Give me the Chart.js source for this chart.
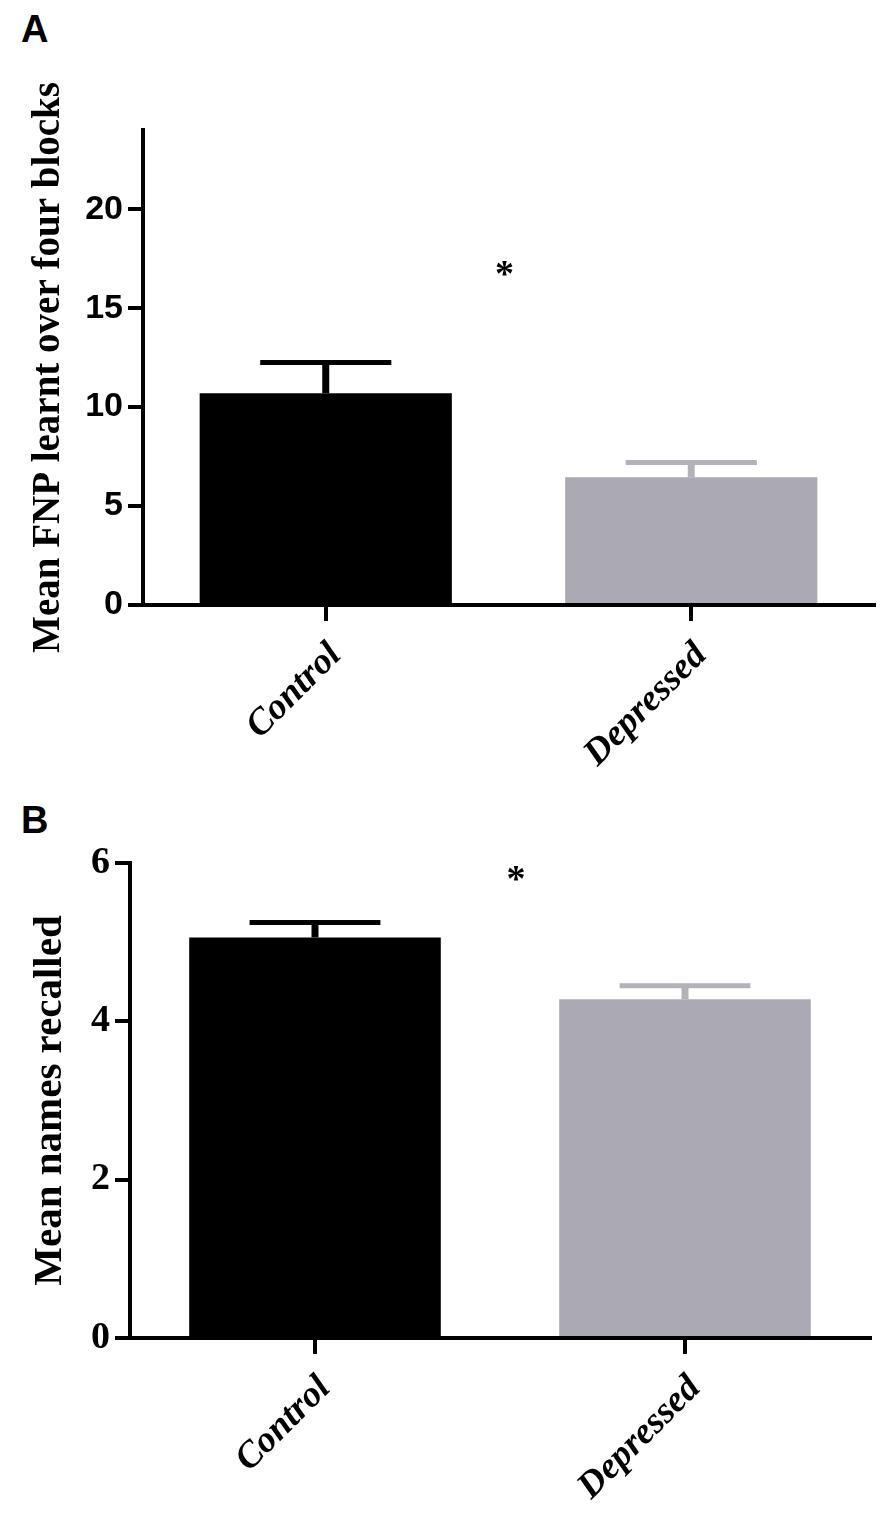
<!DOCTYPE html>
<html>
<head>
<meta charset="utf-8">
<script src="https://cdn.jsdelivr.net/npm/chart.js@4.4.1/dist/chart.umd.min.js"></script>
<style>
  body { margin: 0; background: #fff; }
  #page { position: relative; width: 892px; height: 1522px; overflow: hidden; }
  canvas { position: absolute; left: 0; }
  .panel { position: absolute; left: 21px; font: bold 38px "Liberation Sans", Arial, sans-serif; line-height: 1; }
</style>
</head>
<body>
<div id="page">
  <div class="panel" style="top:10px">A</div>
  <canvas id="chartA" width="892" height="790" style="top:0"></canvas>
  <div class="panel" style="top:801px">B</div>
  <canvas id="chartB" width="892" height="732" style="top:790px"></canvas>
</div>
<script>
// groupes et valeurs
const groups = ['Control', 'Depressed'];
const barColors = ['#000000', '#aba9b3'];
const errColors = ['#000000', '#b3b2b9'];

// panneau A
const fnpMeans = [10.7, 6.45];
const fnpErrors = [1.55, 0.75];
const fnpTicks = [0, 5, 10, 15, 20];
const fnpMax = 24;
const fnpStar = 17;

// panneau B
const recallMeans = [5.06, 4.28];
const recallErrors = [0.19, 0.17];
const recallTicks = [0, 2, 4, 6];
const recallMax = 6;
const recallStar = 5.87;

const errorBars = {
    id: 'errorBars',
    afterDatasetsDraw(chart, args, opts) {
        const { ctx } = chart;
        const y = chart.scales.y;
        const values = chart.data.datasets[0].data;
        chart.getDatasetMeta(0).data.forEach((bar, i) => {
            const top = y.getPixelForValue(values[i] + opts.errors[i]);
            const half = bar.width * 0.26;
            ctx.save();
            ctx.strokeStyle = errColors[i];
            ctx.lineWidth = 7;
            ctx.beginPath();
            ctx.moveTo(bar.x, bar.y);
            ctx.lineTo(bar.x, top);
            ctx.stroke();
            ctx.lineWidth = 5;
            ctx.beginPath();
            ctx.moveTo(bar.x - half, top);
            ctx.lineTo(bar.x + half, top);
            ctx.stroke();
            ctx.restore();
        });
    }
};

const star = {
    id: 'star',
    afterDatasetsDraw(chart, args, opts) {
        const { ctx } = chart;
        const bars = chart.getDatasetMeta(0).data;
        const x = (bars[0].x + bars[1].x) / 2 + opts.shift;
        const y = chart.scales.y.getPixelForValue(opts.value);
        ctx.save();
        ctx.fillStyle = '#000';
        ctx.font = 'bold 38px "Liberation Serif", serif';
        ctx.textAlign = 'center';
        ctx.textBaseline = 'middle';
        ctx.fillText('*', x, y + 8);
        ctx.restore();
    }
};

function makeChart(id, means, errors, ticks, max, starValue, title, sizes) {
    return new Chart(document.getElementById(id), {
        type: 'bar',
        data: {
            labels: groups,
            datasets: [{
                data: means,
                backgroundColor: barColors,
                borderWidth: 0,
                barPercentage: sizes.barPct,
                categoryPercentage: 1
            }]
        },
        options: {
            responsive: false,
            animation: false,
            layout: { padding: { top: sizes.top, right: sizes.right, left: 0, bottom: 0 } },
            plugins: {
                legend: { display: false },
                tooltip: { enabled: false },
                errorBars: { errors: errors },
                star: { value: starValue, shift: sizes.starShift }
            },
            scales: {
                x: {
                    afterFit: (s) => { s.height = sizes.xHeight; },
                    border: { display: true, color: '#000', width: 4 },
                    grid: { display: true, drawOnChartArea: false, drawTicks: true, tickLength: 16, offset: false, color: '#000', lineWidth: 4 },
                    ticks: {
                        color: '#000',
                        minRotation: 45,
                        maxRotation: 45,
                        padding: 13,
                        labelOffset: 10,
                        font: { family: '"Liberation Serif", "Times New Roman", serif', size: 37, weight: 'bold', style: 'italic' }
                    }
                },
                y: {
                    min: 0,
                    max: max,
                    afterFit: (s) => { s.width = sizes.yWidth; },
                    afterBuildTicks: (s) => { s.ticks = ticks.map(v => ({ value: v })); },
                    border: { display: true, color: '#000', width: 4 },
                    grid: { display: true, drawOnChartArea: false, drawTicks: true, tickLength: 15, color: '#000', lineWidth: 4 },
                    ticks: {
                        color: '#000',
                        padding: 5,
                        font: sizes.tickFont
                    },
                    title: {
                        display: true,
                        text: title,
                        color: '#000',
                        padding: { top: 26, bottom: 0 },
                        font: { family: '"Liberation Serif", "Times New Roman", serif', size: sizes.titleSize, weight: 'bold' }
                    }
                }
            }
        },
        plugins: [errorBars, star]
    });
}

makeChart('chartA', fnpMeans, fnpErrors, fnpTicks, fnpMax, fnpStar,
    'Mean FNP learnt over four blocks',
    { top: 130, right: 18, xHeight: 185, yWidth: 143, barPct: 0.69, titleSize: 39, starShift: -4,
      tickFont: { family: '"Liberation Sans", Arial, sans-serif', size: 34, weight: 'bold' } });

makeChart('chartB', recallMeans, recallErrors, recallTicks, recallMax, recallStar,
    'Mean names recalled',
    { top: 73, right: 22, xHeight: 184, yWidth: 130, barPct: 0.68, titleSize: 41, starShift: 16,
      tickFont: { family: '"Liberation Serif", "Times New Roman", serif', size: 38, weight: 'bold' } });
</script>
</body>
</html>
